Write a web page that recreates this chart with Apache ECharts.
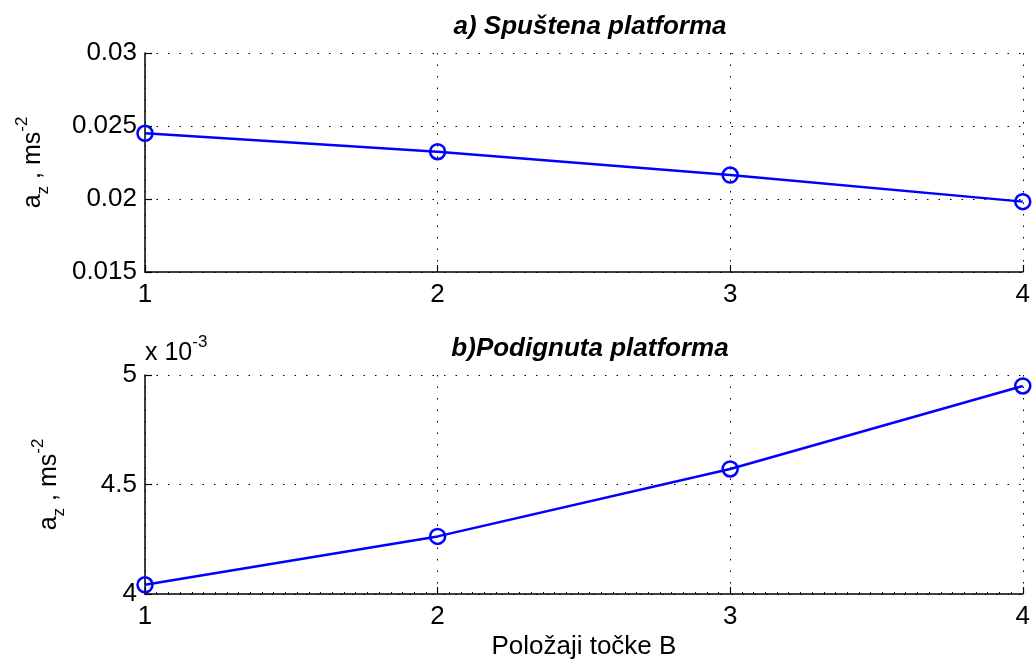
<!DOCTYPE html>
<html>
<head>
<meta charset="utf-8">
<script src="https://cdn.jsdelivr.net/npm/echarts@6/dist/echarts.min.js"></script>
<style>html,body{margin:0;padding:0;background:#fff;}#c{width:1033px;height:665px;}</style>
</head>
<body>
<div id="c"></div>
<script>
var positions = [1, 2, 3, 4];
var loweredValues = [0.0245, 0.02324, 0.02164, 0.01982];
var raisedValues = [0.004042, 0.004263, 0.004571, 0.00495];
var topTicks = [0.015, 0.02, 0.025, 0.03];
var bottomTicks = [4, 4.5, 5];
var titleA = 'a) Spuštena platforma';
var titleB = 'b)Podignuta platforma';
var xName = 'Položaji točke B';

var FONT = 'Liberation Sans, Arial, sans-serif';
var FS = 26;
var chart = echarts.init(document.getElementById('c'));

function pairs(vals) { return positions.map(function (p, i) { return [p, vals[i]]; }); }

var yName = '{b|a}{s|z}{b| , ms}{p|-2}';
var yRich = {
  b: { fontSize: 25, fontFamily: FONT, color: '#000', lineHeight: 40, verticalAlign: 'middle' },
  s: { fontSize: 17, fontFamily: FONT, color: '#000', lineHeight: 40, verticalAlign: 'bottom', padding: [0, 0, 1, 0] },
  p: { fontSize: 17, fontFamily: FONT, color: '#000', lineHeight: 40, verticalAlign: 'top', padding: [1, 0, 0, 0] }
};

var gridLine = { show: true, lineStyle: { color: '#000', type: [1.5, 10], width: 1 } };
var axisLine = { show: true, lineStyle: { color: '#000', width: 1.5 } };
var axisTick = { show: true, inside: true, length: 7, lineStyle: { color: '#000', width: 1.2 } };

function xAxis(gi, withName, minor) {
  return {
    type: 'value', gridIndex: gi, min: 1, max: 4, interval: 1,
    axisLine: axisLine, axisTick: axisTick,
    minorTick: { show: minor, splitNumber: 25, length: 2, lineStyle: { color: '#000' } },
    splitLine: gridLine,
    axisLabel: { color: '#000', fontSize: FS, fontFamily: FONT, margin: 10 },
    name: withName ? xName : '', nameLocation: 'middle', nameGap: 40,
    nameTextStyle: { color: '#000', fontSize: FS, fontFamily: FONT }
  };
}

var option = {
  backgroundColor: '#fff',
  animation: false,
  title: [
    { text: titleA, left: 585, textAlign: 'center', top: 9,
      textStyle: { fontSize: 26, fontWeight: 'bold', fontStyle: 'italic', fontFamily: FONT, color: '#000' } },
    { text: titleB, left: 585, textAlign: 'center', top: 331,
      textStyle: { fontSize: 26, fontWeight: 'bold', fontStyle: 'italic', fontFamily: FONT, color: '#000' } }
  ],
  graphic: [{
    type: 'text', left: 145, top: 334,
    style: {
      text: '{b|x 10}{p|-3}',
      rich: {
        b: { fontSize: 25, fontFamily: FONT, fill: '#000', lineHeight: 32, verticalAlign: 'bottom' },
        p: { fontSize: 17, fontFamily: FONT, fill: '#000', lineHeight: 32, verticalAlign: 'top' }
      }
    }
  }],
  grid: [
    { left: 145, right: 10, top: 53, height: 219 },
    { left: 145, right: 10, top: 375, height: 219 }
  ],
  xAxis: [xAxis(0, false, false), xAxis(1, true, true)],
  yAxis: [
    {
      type: 'value', gridIndex: 0, min: 0.015, max: 0.03, interval: 0.005,
      axisLine: axisLine, axisTick: axisTick, splitLine: gridLine,
      axisLabel: { color: '#000', fontSize: FS, fontFamily: FONT, margin: 8,
        formatter: function (v) { var t = topTicks.reduce(function (a, b) { return Math.abs(b - v) < Math.abs(a - v) ? b : a; }); return String(t); } },
      name: yName, nameLocation: 'middle', nameGap: 92, nameRotate: 90,
      nameTextStyle: { rich: yRich }
    },
    {
      type: 'value', gridIndex: 1, min: 0.004, max: 0.005, interval: 0.0005,
      axisLine: axisLine, axisTick: axisTick, splitLine: gridLine,
      axisLabel: { color: '#000', fontSize: FS, fontFamily: FONT, margin: 8,
        formatter: function (v) { var t = bottomTicks.reduce(function (a, b) { return Math.abs(b - v * 1000) < Math.abs(a - v * 1000) ? b : a; }); return String(t); } },
      name: yName, nameLocation: 'middle', nameGap: 76, nameRotate: 90,
      nameTextStyle: { rich: yRich }
    }
  ],
  series: [
    { type: 'line', xAxisIndex: 0, yAxisIndex: 0, data: pairs(loweredValues), clip: false,
      symbol: 'circle', symbolSize: 15, showAllSymbol: true,
      lineStyle: { color: '#0000ff', width: 2.5 },
      itemStyle: { color: 'rgba(0,0,0,0)', borderColor: '#0000ff', borderWidth: 2.5 } },
    { type: 'line', xAxisIndex: 1, yAxisIndex: 1, data: pairs(raisedValues), clip: false,
      symbol: 'circle', symbolSize: 15, showAllSymbol: true,
      lineStyle: { color: '#0000ff', width: 2.5 },
      itemStyle: { color: 'rgba(0,0,0,0)', borderColor: '#0000ff', borderWidth: 2.5 } }
  ]
};
chart.setOption(option);
</script>
</body>
</html>
